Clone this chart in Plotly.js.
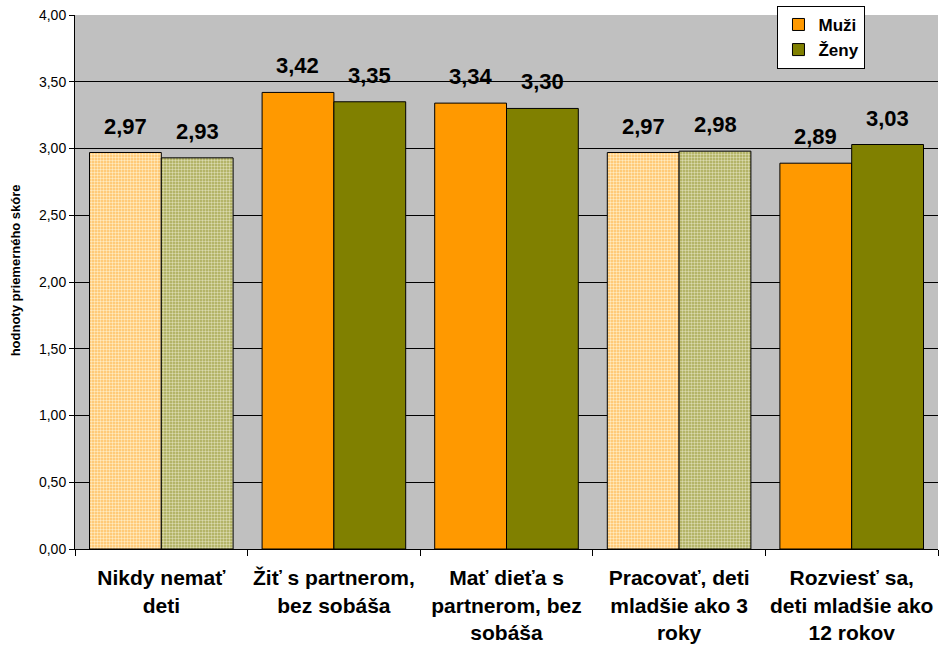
<!DOCTYPE html>
<html><head><meta charset="utf-8">
<script src="https://cdn.plot.ly/plotly-3.0.1.min.js"></script>
<style>body{margin:0;background:#fff}#c{width:940px;height:653px}</style>
</head><body><div id="c"></div>
<script>
const categories = ["Nikdy nemať<br>deti", "Žiť s partnerom,<br>bez sobáša", "Mať dieťa s<br>partnerom, bez<br>sobáša", "Pracovať, deti<br>mladšie ako 3<br>roky", "Rozviesť sa,<br>deti mladšie ako<br>12 rokov"];
const muzi = [2.97, 3.42, 3.34, 2.97, 2.89];
const zeny = [2.93, 3.35, 3.30, 2.98, 3.03];
const patterned = [true, false, false, true, false];
const seriesNames = ["Muži", "Ženy"];
const solidColors = ['#FF9900', '#808000'];
const lightColors = ['#FFC060', '#A8A850'];
const dotColors = ['#FFEBC0', '#DADAAE'];

function trace(s, y) {
  return {
    type: 'bar', name: seriesNames[s], x: categories, y: y, showlegend: false,
    marker: {
      color: solidColors[s],
      line: {color: '#000', width: 1},
      pattern: {
        shape: patterned.map(p => p ? '.' : ''),
        bgcolor: lightColors[s], fgcolor: dotColors[s], fgopacity: 1,
        size: 3, solidity: 0.5, fillmode: 'replace'
      }
    },
    hoverinfo: 'skip'
  };
}
function legendTrace(s) {
  return {type: 'bar', name: seriesNames[s], x: [categories[0]], y: [null], xaxis: 'x2', yaxis: 'y2',
    marker: {color: solidColors[s], line: {color: '#000', width: 1}}, hoverinfo: 'skip'};
}
const data = [trace(0, muzi), trace(1, zeny), legendTrace(0), legendTrace(1)];
const annotations = [];
const fmt = v => v.toFixed(2).replace('.', ',');
[muzi, zeny].forEach((arr, s) => arr.forEach((v, i) => {
  annotations.push({x: categories[i], y: v, xref: 'x', yref: 'y', text: fmt(v), showarrow: false,
    xshift: s === 0 ? -36 : 36, yanchor: 'bottom', yshift: 12,
    font: {family: 'Liberation Sans, Arial, sans-serif', size: 22, color: '#000', weight: 'bold'}});
}));
annotations.push({xref: 'paper', yref: 'paper', x: -0.0694, y: 0.522, textangle: -90, showarrow: false,
  text: 'hodnoty priemerného skóre', font: {size: 13, weight: 'bold'}, xanchor: 'center', yanchor: 'middle'});
const layout = {
  width: 940, height: 653,
  margin: {l: 75, r: 2, t: 15, b: 104},
  paper_bgcolor: '#fff', plot_bgcolor: '#C0C0C0',
  separators: ', ',
  barmode: 'group', bargap: 0.168, bargroupgap: 0,
  font: {family: 'Liberation Sans, Arial, sans-serif', color: '#000'},
  showlegend: true,
  annotations: annotations,
  legend: {x: 0.814, y: 1.017, xanchor: 'left', yanchor: 'top', bgcolor: '#fff', bordercolor: '#000', borderwidth: 1,
    font: {size: 17, weight: 'bold'}, itemwidth: 30, tracegroupgap: 0},
  xaxis: {type: 'category', showline: true, linecolor: '#000', linewidth: 1, ticks: 'outside', tickson: 'boundaries', ticklen: 6, tickcolor: '#000',
    tickfont: {size: 21, weight: 'bold'}, ticklabelstandoff: 10, showgrid: false},
  yaxis: {range: [0, 4], dtick: 0.5, tickformat: '.2f', showline: true, linecolor: '#000', ticks: 'outside', ticklen: 5, tickcolor: '#000',
    gridcolor: '#000', gridwidth: 1, zeroline: true, zerolinecolor: '#000', tickfont: {size: 14}},
  xaxis2: {overlaying: 'x', visible: false, type: 'category'},
  yaxis2: {overlaying: 'y', visible: false, range: [0, 4]}
};
Plotly.newPlot('c', data, layout, {displayModeBar: false});
</script></body></html>
